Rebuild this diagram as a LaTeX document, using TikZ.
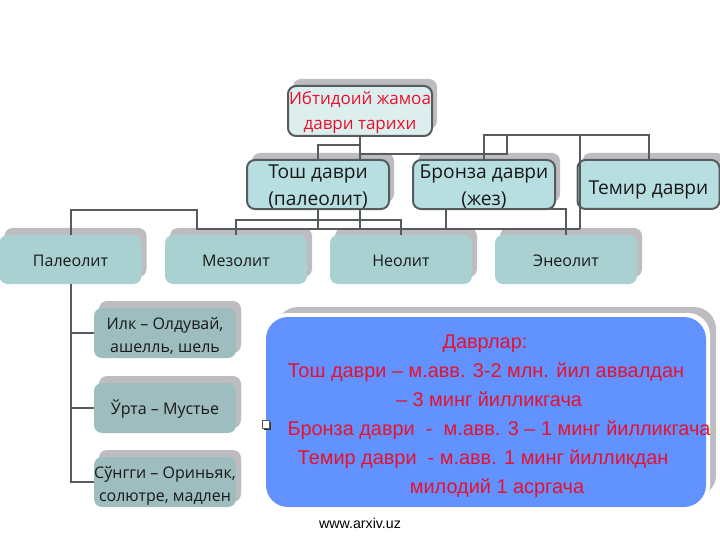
\documentclass[tikz,border=0pt]{standalone}
\usepackage{fontspec}
\setmainfont{Open Sans}
\newfontfamily\arialfont{Liberation Sans}
\usetikzlibrary{shadows, shapes.misc}
\definecolor{linegrey}{HTML}{565C5E}
\definecolor{shadowgrey}{HTML}{BDBDC1}
\definecolor{toptone}{HTML}{B7DEE0}
\definecolor{roottone}{HTML}{DCEEEE}
\definecolor{midtone}{HTML}{AAD1D1}
\definecolor{subtone}{HTML}{9DBDBF}
\definecolor{bluetone}{HTML}{6192FF}
\definecolor{redtone}{HTML}{E8112D}
\newcommand\lift[1]{\rule{0pt}{#1}}
\tikzset{
	boxbase/.style={rounded corners=8pt,inner sep=0pt,align=center,text=black!90,
		drop shadow={shadow xshift=5pt,shadow yshift=7pt,opacity=1,fill=shadowgrey}},
	topbox/.style={boxbase,draw=linegrey,line width=2pt,fill=toptone,minimum width=142pt,minimum height=49pt,
		font=\fontsize{19.2}{27}\selectfont},
	midbox/.style={boxbase,fill=midtone,minimum width=142pt,minimum height=49pt,font=\fontsize{16}{20}\selectfont},
	subbox/.style={boxbase,fill=subtone,minimum width=142pt,minimum height=50pt,font=\fontsize{16}{23}\selectfont,
		drop shadow={shadow xshift=5pt,shadow yshift=5pt,opacity=1,fill=shadowgrey}},
	link/.style={draw=linegrey,line width=2pt},
	dline/.style={text=redtone,inner sep=0pt,anchor=base,font=\arialfont\fontsize{19.9}{22}\selectfont},
	panel/.style={rounded corners=22pt,minimum width=440pt,minimum height=190pt},
}
\begin{document}
\begin{tikzpicture}[x=1pt,y=-1pt]
	\useasboundingbox (0,0) rectangle (720,540);
	\node[topbox,fill=roottone,minimum width=144pt,minimum height=50pt,text=redtone,font=\fontsize{17}{25}\selectfont] (root) at (360,111) {\lift{17pt}Ибтидоий жамоа\\даври тарихи};
	\node[topbox] (tosh) at (318,184.5) {\lift{19pt}Тош даври\\(палеолит)};
	\node[topbox] (bronza) at (484,184.5) {\lift{19pt}Бронза даври\\(жез)};
	\node[topbox] (temir) at (648.5,184.5) {\lift{25pt}Темир даври};
	\node[midbox] (paleolit) at (70.5,259.5) {\lift{14pt}Палеолит};
	\node[midbox] (mezolit) at (236,259.5) {\lift{14pt}Мезолит};
	\node[midbox] (neolit) at (401,259.5) {\lift{14pt}Неолит};
	\node[midbox] (eneolit) at (566,259.5) {\lift{14pt}Энеолит};
	\node[subbox] (ilk) at (165,333) {\lift{19pt}Илк – Олдувай,\\ашелль, шель};
	\node[subbox] (orta) at (165,408) {\lift{17pt}Ўрта – Мустье};
	\node[subbox] (songgi) at (165,482) {\lift{19pt}Сўнгги – Ориньяк,\\солютре, мадлен};
	% panel with its white rim
	\node[panel,fill=shadowgrey] (dshadow) at (496,402) {};
	\node[panel,fill=white,minimum width=444pt,minimum height=194pt] (drim) at (488,410) {};
	\node[panel,fill=bluetone] (dbox) at (486,412) {};
	\node[dline] (d1) at (485,348) {Даврлар:};
	\node[dline] (d2) at (486,377) {Тош даври – м.авв. 3-2 млн. йил аввалдан};
	\node[dline] (d3) at (489,406) {– 3 минг йилликгача};
	\node[dline] (d4) at (499,435) {Бронза даври\ \ -\ \ м.авв. 3 – 1 минг йилликгача};
	\node[dline] (d5) at (483,464) {Темир даври\ \ - м.авв. 1 минг йилликдан};
	\node[dline] (d6) at (497,493) {милодий 1 асргача};
	\node[draw=black!65,fill=white,line width=1pt,minimum size=7.5pt,inner sep=0pt,
		drop shadow={shadow xshift=1.3pt,shadow yshift=-1.3pt,opacity=1,fill=black!80}] (bullet) at (266,424.5) {};
	\node[inner sep=0pt,font=\arialfont\fontsize{14.2}{16}\selectfont] (site) at (360,523) {www.arxiv.uz};
	\coordinate (topbus) at (507,135);
	\coordinate (lowbus) at (580,229);
	\coordinate (knee) at (197,210);
	\coordinate (bronzaleft) at (446,209);
	\draw[link] (root.south) -- (root.south |- tosh.north);
	\draw[link] (tosh.north) |- (root.south |- 0,145);
	\draw[link] (root.south |- 0,154) -| (topbus);
	\draw[link] (bronza.north) |- (topbus) -| (temir.north);
	\draw[link] (lowbus |- topbus) -- (lowbus);
	\draw[link] (paleolit.north) |- (knee) -- (knee |- lowbus) -- (lowbus);
	\draw[link] (tosh.south) -- (tosh.south |- lowbus);
	\draw[link] (root.south |- tosh.south) -- (root.south |- lowbus);
	\draw[link] (mezolit.north) |- (root.south |- 0,220) -| (neolit.north);
	\draw[link] (bronzaleft) -- (bronzaleft |- lowbus);
	\draw[link] (bronzaleft) -| (eneolit.north);
	\draw[link] (paleolit.south) |- (songgi.west);
	\draw[link] (paleolit.south |- ilk.west) -- (ilk.west);
	\draw[link] (paleolit.south |- orta.west) -- (orta.west);
\end{tikzpicture}
\end{document}
